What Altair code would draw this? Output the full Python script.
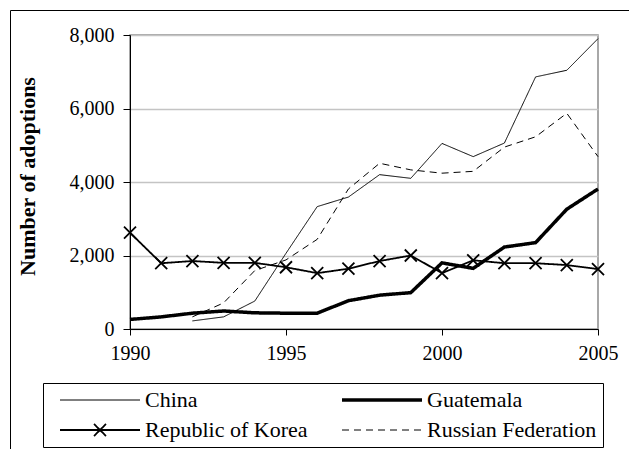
import altair as alt
import pandas as pd

# Annual adoptions by country of origin
years = list(range(1990, 2006))
china = [None, None, 220, 330, 760, 2060, 3330, 3590, 4200, 4100, 5050, 4690, 5060, 6860, 7040, 7900]
guatemala = [260, 330, 430, 490, 440, 430, 430, 770, 920, 990, 1800, 1650, 2230, 2350, 3260, 3810]
korea = [2620, 1790, 1850, 1800, 1800, 1680, 1520, 1640, 1850, 2000, 1520, 1870, 1790, 1790, 1740, 1630]
russia = [None, None, 330, 710, 1590, 1880, 2440, 3810, 4510, 4330, 4240, 4290, 4950, 5230, 5870, 4690]

countries = ["China", "Guatemala", "Republic of Korea", "Russian Federation"]
series = [china, guatemala, korea, russia]
line_widths = {"China": 1, "Guatemala": 3.5, "Republic of Korea": 1.8, "Russian Federation": 1}
dashes = [[1, 0], [1, 0], [1, 0], [7, 5]]

rows = []
for name, values in zip(countries, series):
    for yr, v in zip(years, values):
        if v is not None:
            rows.append({"year": yr, "adoptions": v, "country": name, "lw": line_widths[name]})
df = pd.DataFrame(rows)

FONT = "Liberation Serif"
CROSS = "M-1,-1L1,1M-1,1L1,-1"
KOREA = "Republic of Korea"
# legend samples, in units of half the 10px base symbol width
LEGEND_LINE = "M-8,0L8,0"
LEGEND_CROSS = "M-8,0L8,0M-1.2,-1.2L1.2,1.2M-1.2,1.2L1.2,-1.2"

x_enc = alt.X(
    "year:Q",
    scale=alt.Scale(domain=[1990, 2005], nice=False, zero=False),
    axis=alt.Axis(values=[1990, 1995, 2000, 2005], format="d", title=None, grid=False,
                  labelFlush=False, tickSize=6, labelPadding=8),
)
y_enc = alt.Y(
    "adoptions:Q",
    scale=alt.Scale(domain=[0, 8000], nice=False),
    axis=alt.Axis(values=[0, 2000, 4000, 6000, 8000], format=",d", title="Number of adoptions",
                  grid=True, gridColor="#c4c4c4", gridWidth=1.5, tickSize=7, labelPadding=9,
                  titleFontWeight="bold", titleFontSize=22, titleFont=FONT,
                  titleX=-96, titleY=141, titleBaseline="alphabetic", titleAngle=270),
)

legend = alt.Legend(
    title=None, orient="none", legendX=-87, legendY=348, columns=2, direction="horizontal",
    symbolSize=100, padding=6, rowPadding=8, columnPadding=23,
    symbolOffset=40, labelOffset=34, labelFont=FONT, labelFontSize=22, labelColor="black",
    labelLimit=0, strokeColor="black", fillColor="white",
    symbolStrokeColor="black", symbolFillColor="transparent",
    symbolType={"expr": f"datum.value === '{KOREA}' ? '{LEGEND_CROSS}' : '{LEGEND_LINE}'"},
    symbolStrokeWidth={"expr": f"datum.value === 'Guatemala' ? 3.5 : datum.value === '{KOREA}' ? 1.8 : 1"},
)

lines = alt.Chart(df).mark_line(color="black", strokeJoin="miter").encode(
    x=x_enc,
    y=y_enc,
    strokeDash=alt.StrokeDash("country:N", scale=alt.Scale(domain=countries, range=dashes), legend=legend),
    strokeWidth=alt.StrokeWidth("lw:Q", scale=None, legend=None),
)

markers = alt.Chart(df[df["country"] == KOREA]).mark_point(
    shape=CROSS, filled=False, color="black", size=144, strokeWidth=1.8, opacity=1
).encode(x="year:Q", y="adoptions:Q")

# surrounding frame
frame_data = alt.Data(values=[{}])
frame_left = alt.Chart(frame_data).mark_rule(color="black", strokeWidth=1).encode(
    x=alt.value(-119.5), y=alt.value(-24.5), y2=alt.value(430)
)
frame_top = alt.Chart(frame_data).mark_rule(color="black", strokeWidth=1).encode(
    x=alt.value(-119.5), x2=alt.value(520), y=alt.value(-24.5)
)

chart = alt.layer(frame_left, frame_top, lines, markers).properties(
    width=468, height=294,
    autosize=alt.AutoSizeParams(type="none"),
    padding={"left": 130, "top": 35, "right": 31, "bottom": 120},
    background="white",
).configure_view(
    stroke="#8c8c8c", strokeWidth=1.5
).configure_axis(
    labelFont=FONT, labelFontSize=20, labelColor="black",
    domainColor="black", domainWidth=1, tickColor="black", tickWidth=1,
)

chart.save("out.html", embed_options={"renderer": "svg", "actions": False})
